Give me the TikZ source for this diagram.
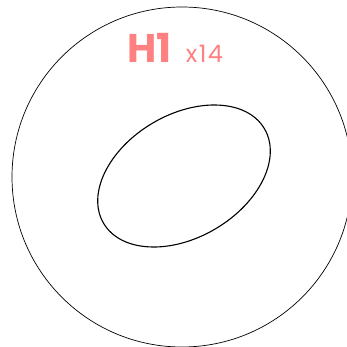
\documentclass[tikz,border=0pt]{standalone}
\usepackage{fontspec}
\setmainfont{Poppins}
\usetikzlibrary{positioning}
\definecolor{salmonred}{HTML}{FF8080}

\begin{document}
\begin{tikzpicture}[x=1pt,y=-1pt]
          \useasboundingbox (0,0) rectangle (347,347);
          % Draw the outer circle
          \draw[line width=0.7pt] (182,177) circle (170);
          % inner ellipse
          \draw[line width=1.1pt,rotate around={30.4:(184,176)}] (184,176) ellipse (93.3 and 61.5);
          % label
          \node[salmonred,anchor=base west,inner sep=0pt,font=\fontsize{40}{40}\selectfont\bfseries] (title) at (127,63) {H1};
          \node[salmonred,base right=14pt of title,inner sep=0pt,font=\fontsize{24}{24}\selectfont\addfontfeature{LetterSpace=6}] (count) {x14};
\end{tikzpicture}
\end{document}
